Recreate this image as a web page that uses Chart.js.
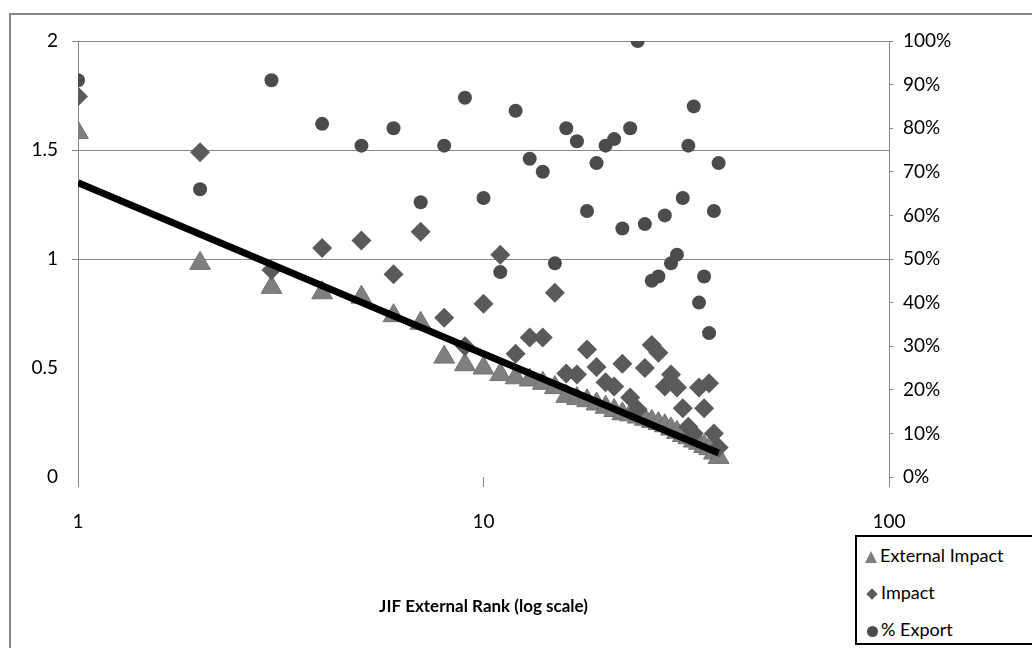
<!DOCTYPE html>
<html lang="en">
<head>
<meta charset="UTF-8">
<title>JIF External Rank</title>
<script src="https://cdn.jsdelivr.net/npm/chart.js"></script>
<style>
    body { margin: 0; width: 1032px; height: 648px; overflow: hidden; background: #fff; position: relative; font-family: Lato, sans-serif; }
    #frame { position: absolute; left: 9px; top: 13px; width: 1100px; height: 700px; border: 2px solid #868686; box-sizing: border-box; }
    #chartBox { position: absolute; left: 0; top: 0; }
    .legend { position: absolute; left: 855px; top: 535px; width: 200px; height: 110px; border: 2px solid #000; background: #fff; box-sizing: border-box; }
    .row { position: absolute; left: 8px; height: 22px; line-height: 22px; font-size: 18px; color: #000; white-space: nowrap; }
    .mk { display: inline-block; vertical-align: middle; margin-right: 3px; }
    .tri { width: 0; height: 0; border-left: 6px solid transparent; border-right: 6px solid transparent; border-bottom: 12px solid #7f7f7f; }
    .dia { width: 8px; height: 8px; background: #5a5a5a; transform: rotate(45deg); margin: 0 5px 0 3px; }
    .dot { width: 11px; height: 11px; border-radius: 50%; background: #4b4b4b; margin-left: 2px; }
</style>
</head>
<body>
<div id="frame"></div>
<div id="chartBox"><canvas id="rankChart" width="1032" height="648"></canvas></div>

<!-- Legende -->
<div class="legend">
    <div class="row" style="top:7px"><span class="mk tri"></span>External Impact</div>
    <div class="row" style="top:44px"><span class="mk dia"></span>Impact</div>
    <div class="row" style="top:81px"><span class="mk dot"></span>% Export</div>
</div>

<script>
// ranks on the x axis
const ranks = [1, 2, 3, 4, 5, 6, 7, 8, 9, 10, 11, 12, 13, 14, 15, 16, 17, 18, 19,
    20, 21, 22, 23, 24, 25, 26, 27, 28, 29, 30, 31, 32, 33, 34, 35, 36, 37, 38];

const externalImpact = [1.58, 0.98, 0.87, 0.845, 0.825, 0.74, 0.705, 0.55, 0.515, 0.50,
    0.47, 0.455, 0.445, 0.43, 0.41, 0.37, 0.36, 0.35, 0.335, 0.32,
    0.305, 0.29, 0.285, 0.275, 0.265, 0.255, 0.245, 0.235, 0.22, 0.205,
    0.19, 0.18, 0.165, 0.155, 0.14, 0.13, 0.11, 0.09];

const impact = [1.745, 1.49, 0.95, 1.05, 1.085, 0.93, 1.125, 0.73, 0.60, 0.795,
    1.02, 0.565, 0.64, 0.64, 0.845, 0.475, 0.47, 0.585, 0.505, 0.435,
    0.415, 0.52, 0.365, 0.31, 0.50, 0.605, 0.57, 0.415, 0.47, 0.41,
    0.315, 0.23, 0.20, 0.41, 0.315, 0.43, 0.20, 0.135];

// percent
const pctExport = [91, 66, 91, 81, 76, 80, 63, 76, 87, 64,
    47, 84, 73, 70, 49, 80, 77, 61, 72, 76,
    77.5, 57, 80, 100, 58, 45, 46, 60, 49, 51,
    64, 76, 85, 40, 46, 33, 61, 72];

// logarithmic trend line of External Impact (end points)
const trendRank = [1, 38];
const trendValue = [1.35, 0.11];

const xTicks = [1, 10, 100];

const gridGrey = '#868686';
const tickFont = { family: 'Lato', size: 19 };

function toPoints(xs, ys) {
    return xs.map((x, i) => ({ x: x, y: ys[i] }));
}

const ctx = document.getElementById('rankChart').getContext('2d');
new Chart(ctx, {
    type: 'scatter',
    data: {
        datasets: [
            {
                label: 'trend',
                type: 'line',
                data: toPoints(trendRank, trendValue),
                borderColor: '#000',
                borderWidth: 7,
                pointRadius: 0,
                yAxisID: 'y',
                order: 0
            },
            {
                label: '% Export',
                data: toPoints(ranks, pctExport),
                pointStyle: 'circle',
                pointRadius: 7,
                backgroundColor: '#4b4b4b',
                borderColor: '#4b4b4b',
                borderWidth: 0,
                yAxisID: 'y2',
                order: 1
            },
            {
                label: 'Impact',
                data: toPoints(ranks, impact),
                pointStyle: 'rectRot',
                pointRadius: 10,
                backgroundColor: '#5a5a5a',
                borderColor: '#5a5a5a',
                borderWidth: 0,
                yAxisID: 'y',
                order: 2
            },
            {
                label: 'External Impact',
                data: toPoints(ranks, externalImpact),
                pointStyle: 'triangle',
                pointRadius: 12,
                backgroundColor: '#7f7f7f',
                borderColor: '#727272',
                borderWidth: 1,
                yAxisID: 'y',
                order: 3
            }
        ]
    },
    options: {
        responsive: false,
        animation: false,
        layout: { padding: { top: 41, left: 0, right: 0, bottom: 0 } },
        plugins: {
            legend: { display: false },
            tooltip: { enabled: false }
        },
        scales: {
            x: {
                type: 'logarithmic',
                min: 1,
                max: 100,
                afterBuildTicks: function (scale) {
                    scale.ticks = xTicks.map(v => ({ value: v }));
                },
                afterFit: function (scale) { scale.height = 171; },
                ticks: {
                    color: '#000',
                    font: tickFont,
                    padding: 23,
                    maxRotation: 0,
                    autoSkip: false,
                    callback: function (value) { return String(value); }
                },
                grid: { drawOnChartArea: false, drawTicks: true, tickLength: 10, color: gridGrey },
                border: { display: false },
                title: {
                    display: true,
                    text: 'JIF External Rank (log scale)',
                    color: '#000',
                    font: { family: 'Lato', size: 17, weight: 'bold' },
                    padding: { top: 0, bottom: 31 }
                }
            },
            y: {
                position: 'left',
                min: 0,
                max: 2,
                afterFit: function (scale) { scale.width = 78; },
                ticks: {
                    stepSize: 0.5,
                    color: '#000',
                    font: tickFont,
                    padding: 14,
                    callback: function (value) { return String(value); }
                },
                grid: {
                    tickLength: 6,
                    color: function (c) { return c.tick && c.tick.value >= 1 ? gridGrey : 'rgba(0,0,0,0)'; }
                },
                border: { display: true, color: gridGrey, width: 1 }
            },
            y2: {
                position: 'right',
                min: 0,
                max: 100,
                afterFit: function (scale) { scale.width = 143; },
                ticks: {
                    stepSize: 10,
                    color: '#000',
                    font: tickFont,
                    padding: 10,
                    callback: function (value) { return value + '%'; }
                },
                grid: { drawOnChartArea: false, tickLength: 4, color: gridGrey },
                border: { display: true, color: gridGrey, width: 1 }
            }
        }
    }
});
</script>
</body>
</html>
